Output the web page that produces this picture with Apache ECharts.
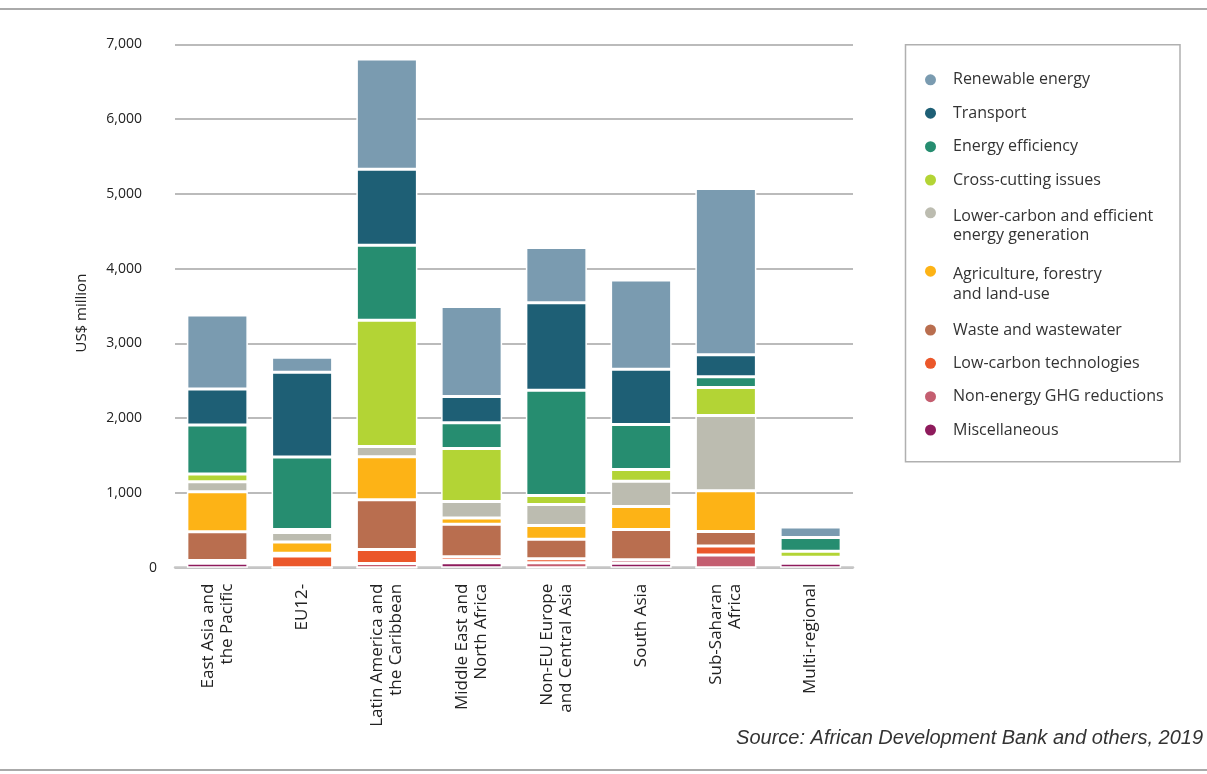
<!DOCTYPE html>
<html>
<head>
<meta charset="utf-8">
<script src="https://cdn.jsdelivr.net/npm/echarts@6/dist/echarts.min.js"></script>
<style>
  html, body { margin: 0; padding: 0; background: #fff; }
  #chart { width: 1207px; height: 774px; }
</style>
</head>
<body>
<div id="chart"></div>
<script>
const categories = [
  'East Asia and\nthe Pacific',
  'EU12-',
  'Latin America and\nthe Caribbean',
  'Middle East and\nNorth Africa',
  'Non-EU Europe\nand Central Asia',
  'South Asia',
  'Sub-Saharan\nAfrica',
  'Multi-regional'
];
const yTicks = [0, 1000, 2000, 3000, 4000, 5000, 6000, 7000];

const renewable     = [990, 200, 1475, 1205, 740, 1195, 2225, 140];
const transport     = [480, 1135, 1015, 350, 1170, 740, 295, 0];
const energyEff     = [655, 970, 1005, 345, 1410, 600, 145, 185];
const crossCutting  = [105, 40, 1690, 710, 120, 160, 375, 80];
const lowerCarbon   = [135, 125, 135, 220, 280, 335, 1005, 0];
const agriculture   = [535, 150, 575, 85, 185, 310, 545, 25];
const waste         = [385, 40, 665, 435, 260, 405, 195, 0];
const lowCarbonTech = [0, 155, 190, 45, 55, 0, 120, 25];
const nonEnergy     = [35, 0, 55, 35, 65, 45, 170, 30];
const misc          = [60, 0, 0, 65, 0, 60, 0, 60];

const seriesNames = [
  'Renewable energy',
  'Transport',
  'Energy efficiency',
  'Cross-cutting issues',
  'Lower-carbon and efficient\nenergy generation',
  'Agriculture, forestry\nand land-use',
  'Waste and wastewater',
  'Low-carbon technologies',
  'Non-energy GHG reductions',
  'Miscellaneous'
];
const seriesData = [renewable, transport, energyEff, crossCutting, lowerCarbon,
                    agriculture, waste, lowCarbonTech, nonEnergy, misc];
const colors = ['#7a9bb0', '#1e5f75', '#268d70', '#b3d435', '#bcbcb0',
                '#fdb316', '#b96e4f', '#eb572a', '#c45e70', '#8e1b5c'];
const legendCenters = [79.8, 113.2, 146.7, 180, 212.8, 271.2, 330, 363.3, 396.7, 430];

const FONT = "'Open Sans', 'Noto Sans', sans-serif";

// stacking: bottom-most series first
const series = [];
for (let i = seriesNames.length - 1; i >= 0; i--) {
  series.push({
    name: seriesNames[i],
    type: 'bar',
    stack: 'total',
    barCategoryGap: '28%',
    data: seriesData[i],
    itemStyle: { color: colors[i], borderColor: '#ffffff', borderWidth: 1.5 },
    emphasis: { disabled: true }
  });
}

const legendRich = {
  f: { fontFamily: FONT, fontSize: 16, lineHeight: 46, verticalAlign: 'bottom', color: '#333333', padding: [0, 0, 0, 12] },
  s: { fontFamily: FONT, fontSize: 16, lineHeight: 23, color: '#333333', padding: [0, 0, 0, 12] }
};

const legends = seriesNames.map((name, i) => {
  const twoLine = name.indexOf('\n') >= 0;
  return {
    data: [name],
    orient: 'vertical',
    left: 925,
    top: legendCenters[i] - (twoLine ? 34.5 : 11.5),
    padding: 0,
    icon: 'circle',
    itemWidth: 11,
    itemHeight: 11,
    itemGap: 0,
    formatter: function (n) {
      const parts = n.split('\n');
      if (parts.length > 1) return '{f|' + parts[0] + '}\n{s|' + parts[1] + '}';
      return '{s|' + n + '}';
    },
    textStyle: { fontFamily: FONT, fontSize: 16, lineHeight: 23, color: '#333333', rich: legendRich },
    itemStyle: { borderWidth: 0 }
  };
});

const chart = echarts.init(document.getElementById('chart'), null, { renderer: 'canvas' });
chart.setOption({
  animation: false,
  color: colors,
  textStyle: { fontFamily: FONT },
  title: {
    text: 'Source: African Development Bank and others, 2019',
    right: 4,
    top: 728,
    padding: 0,
    textStyle: {
      fontFamily: "'Liberation Sans', sans-serif",
      fontStyle: 'italic',
      fontWeight: 'normal',
      fontSize: 20,
      color: '#333333'
    }
  },
  legend: legends,
  grid: { left: 175, right: 354, top: 44.5, bottom: 206.3, containLabel: false },
  xAxis: {
    type: 'category',
    data: categories,
    axisLine: { show: true, lineStyle: { color: '#c6c6c6', width: 2.5 } },
    axisTick: { show: false },
    axisLabel: {
      interval: 0,
      rotate: 90,
      margin: 16,
      fontFamily: FONT,
      fontSize: 17,
      lineHeight: 19,
      color: '#222222'
    }
  },
  yAxis: {
    type: 'value',
    min: 0,
    max: 7000,
    interval: 1000,
    name: 'US$ million',
    nameLocation: 'middle',
    nameGap: 86,
    nameTextStyle: { fontFamily: FONT, fontSize: 15, color: '#222222', padding: [0, 14, 0, 0] },
    axisLine: { show: false },
    axisTick: { show: false },
    splitLine: { show: true, lineStyle: { color: '#a4a4a4', width: 1.5 } },
    axisLabel: {
      margin: 18,
      customValues: yTicks,
      formatter: function (v) {
        if (v === 0) return '{z|0}';
        return '{n|' + v.toLocaleString('en-US') + '}';
      },
      rich: {
        z: { fontFamily: FONT, fontSize: 14, color: '#222222' },
        n: { fontFamily: FONT, fontSize: 14, color: '#222222', padding: [0, 15, 0, 0] }
      }
    }
  },
  graphic: [
    { type: 'line', silent: true, shape: { x1: 0, y1: 9, x2: 1207, y2: 9 },
      style: { stroke: '#aaaaaa', lineWidth: 2 } },
    { type: 'line', silent: true, shape: { x1: 0, y1: 770, x2: 1207, y2: 770 },
      style: { stroke: '#aaaaaa', lineWidth: 2 } },
    { type: 'rect', silent: true, z: -1, shape: { x: 905.5, y: 44.7, width: 274.5, height: 417 },
      style: { fill: 'none', stroke: '#b0b0b0', lineWidth: 1.5 } }
  ],
  series: series
});
</script>
</body>
</html>
